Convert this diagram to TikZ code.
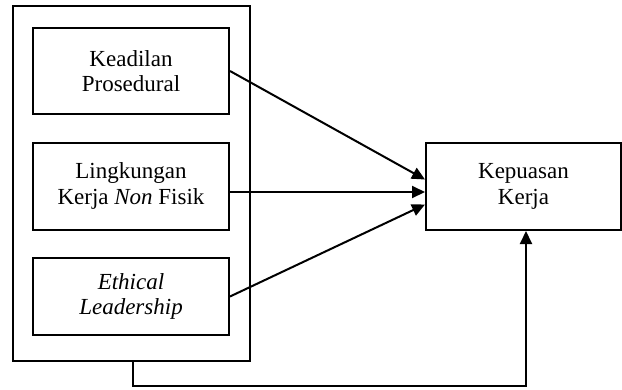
\documentclass[tikz,border=0pt]{standalone}
\usepackage{fontspec}
\setmainfont{Liberation Serif}
\usetikzlibrary{arrows.meta}

\begin{document}
\begin{tikzpicture}[x=1pt,y=-1pt,line width=2pt,>={Triangle[length=13pt,width=12pt]}]
    \tikzstyle{var}=[draw,align=center,font=\fontsize{23}{25.5}\selectfont,minimum width=196pt,inner sep=0pt]
    \tikzstyle{every path}=[line width=2pt];
    \useasboundingbox (0,0) rectangle (622,389);
    \node[draw,minimum width=237pt,minimum height=355pt] (grp) at (131.5,183.5) {};
    \node[var,minimum height=86pt] (kp1) at (131,71) {Keadilan\\Prosedural};
    \node[var,minimum height=87pt] (lk) at (131,186) {Lingkungan\\Kerja \textit{Non} Fisik};
    \node[var,minimum height=77pt] (el) at (131,296.5) {\textit{Ethical}\\\textit{Leadership}};
    \node[var,minimum width=195pt,minimum height=87pt] (kk) at (523.5,186.5) {Kepuasan\\Kerja};
    \coordinate (g1) at (133,386);% below the group
    \coordinate (g2) at (526,386);
    \draw[->] (kp1.east) -- ([yshift=7pt]kk.west);
    \draw[->] (lk.east |- 0,192) -- (kk.west |- 0,192);
    \draw[->] (el.east) -- ([yshift=-18pt]kk.west);
    \draw[->] (grp.south -| g1) -- (g1) -- (g2) -- (kk.south -| g2);
\end{tikzpicture}
\end{document}
